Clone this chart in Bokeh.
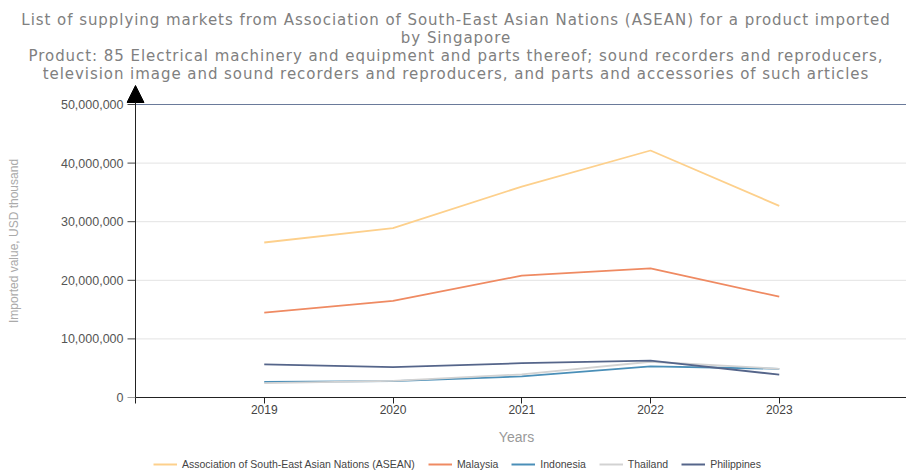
from bokeh.plotting import figure
from bokeh.layouts import column
from bokeh.models import (FixedTicker, Legend, LegendItem, Arrow, NormalHead, Div,
                          NumeralTickFormatter, Range1d)
from bokeh.embed import file_html
from bokeh.resources import INLINE

years = [2019, 2020, 2021, 2022, 2023]
asean = [26450000, 28900000, 36000000, 42150000, 32700000]
malaysia = [14500000, 16500000, 20800000, 22050000, 17200000]
indonesia = [2650000, 2800000, 3600000, 5300000, 4900000]
thailand = [2450000, 2850000, 3950000, 6100000, 4900000]
philippines = [5650000, 5200000, 5850000, 6300000, 3900000]

series = [
    ("Association of South-East Asian Nations (ASEAN)", asean, "#fdd08c"),
    ("Malaysia", malaysia, "#ef8a62"),
    ("Indonesia", indonesia, "#4a8fb8"),
    ("Thailand", thailand, "#d2d2d2"),
    ("Philippines", philippines, "#55658a"),
]

title_lines = [
    "List of supplying markets from Association of South-East Asian Nations (ASEAN) for a product imported",
    "by Singapore",
    "Product: 85 Electrical machinery and equipment and parts thereof; sound recorders and reproducers,",
    "television image and sound recorders and reproducers, and parts and accessories of such articles",
]
y_ticks = [0, 10000000, 20000000, 30000000, 40000000, 50000000]
x_ticks = [2018, 2019, 2020, 2021, 2022, 2023, 2024]

X0, X1 = 2018, 2024
Y_TOP = 50000000
PX_YEAR = 128.75      # pixels per year
PX_Y = 293.0 / Y_TOP  # pixels per unit value

title_div = Div(text="<br>".join(title_lines), width=906, height=84, margin=0,
                styles={"font-family": "'DejaVu Sans'", "font-size": "15px",
                        "color": "#808080", "text-align": "center",
                        "line-height": "18px", "letter-spacing": "0.95px",
                        "padding-top": "11px", "padding-left": "6px",
                        "box-sizing": "border-box"})

x_start = X0 - 9 / PX_YEAR
p = figure(width=906, height=366, output_backend="svg", toolbar_location=None,
           x_range=Range1d(x_start, x_start + 780 / PX_YEAR),
           y_range=Range1d(0, 313 / PX_Y),
           min_border_left=126, min_border_right=0, min_border_top=0, min_border_bottom=53)
p.outline_line_color = None
p.xgrid.grid_line_color = None
p.ygrid.grid_line_color = None

# horizontal grid lines, starting at the vertical axis
grid_y = y_ticks[1:-1]
p.segment(x0=[X0] * len(grid_y), x1=[X1] * len(grid_y), y0=grid_y, y1=grid_y,
          line_color="#e3e3e3", line_width=1)
p.segment(x0=[X0], x1=[X1], y0=[Y_TOP], y1=[Y_TOP], line_color="#6a7a9a", line_width=1)

for name, vals, col in series:
    p.line(years, vals, line_color=col, line_width=1.8)

# vertical axis line with arrow head, and its ticks
p.add_layout(Arrow(end=NormalHead(size=17, fill_color="black", line_color="black"),
                   x_start=X0, y_start=0, x_end=X0, y_end=312 / PX_Y,
                   line_color="#222222", line_width=1))
p.segment(x0=[X0 - 8 / PX_YEAR] * len(y_ticks), x1=[X0] * len(y_ticks),
          y0=y_ticks, y1=y_ticks, line_color="#444444", line_width=1)

# x axis
p.xaxis.ticker = FixedTicker(ticks=x_ticks)
p.xaxis.major_label_overrides = {2018: "", 2024: ""}
p.xaxis.bounds = (X0, X1)
p.xaxis.minor_tick_line_color = None
p.xaxis.major_tick_out = 6
p.xaxis.major_tick_in = 0
p.xaxis.axis_line_color = "#222222"
p.xaxis.major_tick_line_color = "#222222"
p.xaxis.major_label_text_font = "Liberation Sans"
p.xaxis.major_label_text_font_size = "12px"
p.xaxis.major_label_text_color = "#444444"
p.xaxis.major_label_standoff = 1
p.xaxis.axis_label = "Years"
p.xaxis.axis_label_text_font = "Liberation Sans"
p.xaxis.axis_label_text_font_size = "14px"
p.xaxis.axis_label_text_font_style = "normal"
p.xaxis.axis_label_text_color = "#999999"
p.xaxis.axis_label_standoff = 12

# y axis (labels only; line and ticks drawn above)
p.yaxis.ticker = FixedTicker(ticks=y_ticks)
p.yaxis.formatter = NumeralTickFormatter(format="0,0")
p.yaxis.minor_tick_line_color = None
p.yaxis.major_tick_out = 0
p.yaxis.major_tick_in = 0
p.yaxis.axis_line_color = None
p.yaxis.major_tick_line_color = None
p.yaxis.major_label_text_font = "Liberation Sans"
p.yaxis.major_label_text_font_size = "12.5px"
p.yaxis.major_label_text_color = "#555555"
p.yaxis.major_label_standoff = 3
p.yaxis.axis_label = "Imported value, USD thousand"
p.yaxis.axis_label_text_font = "Liberation Sans"
p.yaxis.axis_label_text_font_size = "12px"
p.yaxis.axis_label_text_font_style = "normal"
p.yaxis.axis_label_text_color = "#aaaaaa"
p.yaxis.axis_label_standoff = 37

# legend strip below the chart
lg = figure(width=906, height=20, output_backend="svg", toolbar_location=None,
            x_range=Range1d(0, 1), y_range=Range1d(0, 1),
            x_axis_location=None, y_axis_location=None,
            min_border_left=0, min_border_right=0, min_border_top=0, min_border_bottom=0)
lg.outline_line_color = None
lg.xgrid.grid_line_color = None
lg.ygrid.grid_line_color = None
items = []
for name, vals, col in series:
    r = lg.line(years, vals, line_color=col, line_width=2)
    items.append(LegendItem(label=name, renderers=[r]))
legend = Legend(items=items, orientation="horizontal", location=(27, 0),
                label_text_font="Liberation Sans", label_text_font_size="10.5px",
                label_text_color="#444444", glyph_width=24, glyph_height=10,
                label_standoff=5, spacing=13, padding=0, margin=0,
                border_line_color=None, background_fill_alpha=0)
lg.add_layout(legend, "center")

layout = column(title_div, p, lg, spacing=0)
open("out.html", "w").write(file_html(layout, INLINE))
